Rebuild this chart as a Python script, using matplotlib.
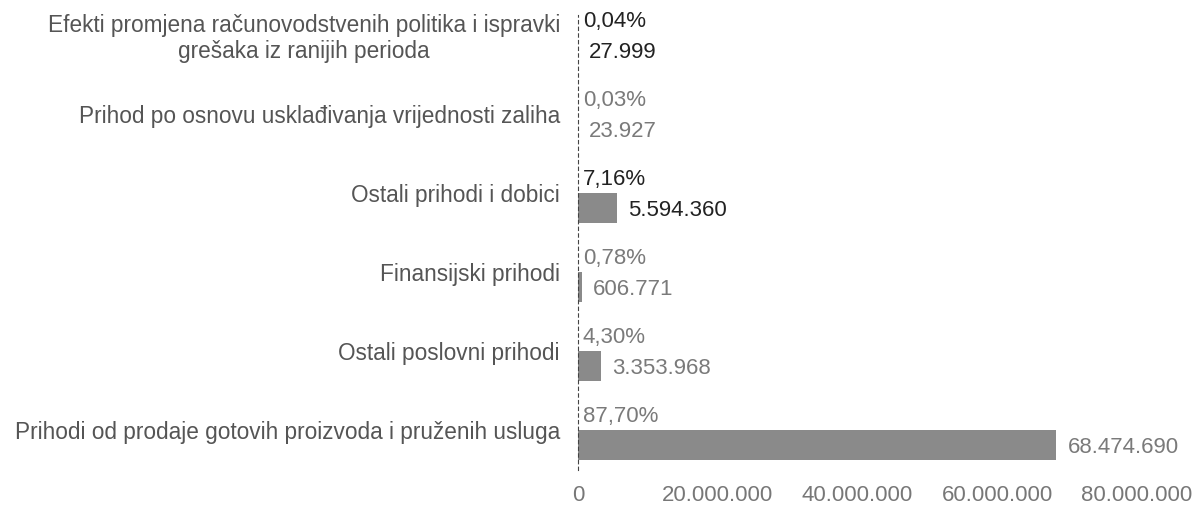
import numpy as np
import matplotlib.pyplot as plt

# categories from bottom to top
categories = [
    "Prihodi od prodaje gotovih proizvoda i pruženih usluga",
    "Ostali poslovni prihodi",
    "Finansijski prihodi",
    "Ostali prihodi i dobici",
    "Prihod po osnovu usklađivanja vrijednosti zaliha",
    "Efekti promjena računovodstvenih politika i ispravki\ngrešaka iz ranijih perioda",
]
values = [68474690, 3353968, 606771, 5594360, 23927, 27999]
percents = ["87,70%", "4,30%", "0,78%", "7,16%", "0,03%", "0,04%"]
xticks = [0, 20000000, 40000000, 60000000, 80000000]
xtick_labels = ["0", "20.000.000", "40.000.000", "60.000.000", "80.000.000"]

dark = [False, False, False, True, False, True]

plt.rcParams['font.family'] = ['Liberation Sans', 'DejaVu Sans']

fig = plt.figure(figsize=(12.02, 5.08), dpi=100)
ax = fig.add_axes([578/1202, 1 - 470/508, (1137 - 578)/1202, (470 - 15)/508])

pos = np.arange(len(categories))
ax.barh(pos, values, height=0.38, color="#8a8a8a")

for i in range(len(values)):
    col = "#222222" if dark[i] else "#7a7a7a"
    ax.text(700000, pos[i] + 0.36, percents[i], fontsize=16, color=col,
            va="center", ha="left")
    lbl = f"{values[i]:,}".replace(",", ".")
    ax.annotate(lbl, (values[i], pos[i] - 0.03), xytext=(8, 0),
                textcoords="offset points", fontsize=16, color=col,
                va="center", ha="left")

ax.set_xlim(0, 80000000)
ax.set_ylim(-0.32, 5.44)
ax.set_xticks(xticks)
ax.set_xticklabels(xtick_labels, fontsize=16, color="#777777")
ax.set_yticks(pos + 0.19)
ax.set_yticklabels(categories, fontsize=16.3, color="#555555", linespacing=1.15)
for t in ax.get_yticklabels():
    t.set_multialignment("center")
ax.tick_params(length=0, pad=13)
ax.tick_params(axis="x", pad=11)

for s in ["top", "right", "bottom"]:
    ax.spines[s].set_visible(False)
ax.spines["left"].set_linestyle((0, (3, 3)))
ax.spines["left"].set_color("#444444")
ax.spines["left"].set_linewidth(0.8)

plt.savefig("out.png")
